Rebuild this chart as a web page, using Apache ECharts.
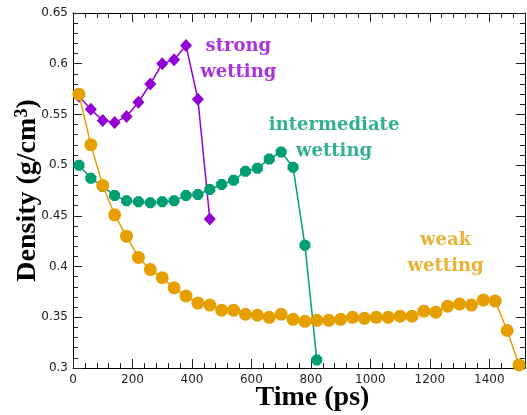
<!DOCTYPE html>
<html>
<head>
<meta charset="utf-8">
<script src="https://cdn.jsdelivr.net/npm/echarts@6/dist/echarts.min.js"></script>
<style>html,body{margin:0;padding:0;background:#fff}#c{width:527px;height:415px}</style>
</head>
<body>
<div id="c"></div>
<script>
// Time (ps) of each sample
var times = [20, 60, 100, 140, 180, 220, 260, 300, 340, 380, 420, 460, 500, 540, 580, 620, 660, 700, 740,
             780, 820, 860, 900, 940, 980, 1020, 1060, 1100, 1140, 1180, 1220, 1260, 1300, 1340, 1380, 1420, 1460, 1500];
// Density (g/cm^3)
var weakWetting = [0.570, 0.520, 0.480, 0.451, 0.430, 0.409, 0.397, 0.389, 0.379, 0.371, 0.364, 0.362, 0.357, 0.357,
                   0.353, 0.352, 0.350, 0.353, 0.348, 0.346, 0.347, 0.347, 0.348, 0.350, 0.349, 0.350, 0.350, 0.351,
                   0.351, 0.356, 0.355, 0.361, 0.363, 0.362, 0.367, 0.366, 0.337, 0.303];
var intermediateWetting = [0.500, 0.487, 0.479, 0.470, 0.465, 0.464, 0.463, 0.464, 0.465, 0.470, 0.471, 0.476,
                           0.481, 0.485, 0.494, 0.497, 0.506, 0.513, 0.498, 0.421, 0.308];
var strongWetting = [0.568, 0.555, 0.544, 0.542, 0.548, 0.562, 0.580, 0.600, 0.604, 0.618, 0.565, 0.447];
// Annotation labels: [time, density, text]
var annotations = [
  [556, 0.604, 'strong\nwetting', '#9400D3'],
  [878, 0.526, 'intermediate\nwetting', '#009E73'],
  [1253, 0.413, 'weak\nwetting', '#E69F00']
];
var xTicksMajor = 200, xTicksMinor = 40, xMin = 0, xMax = 1520;
var yTicksMajor = 0.05, yTicksMinor = 0.01, yMin = 0.3, yMax = 0.65;

function pairs(vals) { return vals.map(function (v, i) { return [times[i], v]; }); }

var chart = echarts.init(document.getElementById('c'), null, {renderer: 'canvas'});
var tickColor = '#222';
function xAx(pos, major, labels, line) {
  return {
    type: 'value', position: pos, min: xMin, max: xMax,
    interval: major ? xTicksMajor : xTicksMinor,
    splitLine: {show: false},
    axisLine: {show: line, onZero: false, lineStyle: {color: '#000', width: 1}},
    axisTick: {show: true, inside: true, length: major ? 9 : 5, lineStyle: {color: tickColor, width: 1}},
    axisLabel: {show: labels, margin: 6, color: '#222', fontFamily: 'DejaVu Sans', fontSize: 12,
      formatter: function (v) { return (v % 200 === 0) ? String(v) : ''; }},
    name: labels ? 'Time (ps)' : '',
    nameLocation: 'middle', nameGap: 16, nameMoveOverlap: false,
    nameTextStyle: {fontFamily: 'Liberation Serif', fontWeight: 'bold', fontSize: 28, color: '#000', padding: [0, 0, 0, 27]}
  };
}
function yAx(pos, major, labels, line) {
  return {
    type: 'value', position: pos, min: yMin, max: yMax,
    interval: major ? yTicksMajor : yTicksMinor,
    splitLine: {show: false},
    axisLine: {show: line, onZero: false, lineStyle: {color: '#000', width: 1}},
    axisTick: {show: true, inside: true, length: major ? 9 : 5, lineStyle: {color: tickColor, width: 1}},
    axisLabel: {show: labels, margin: 5, color: '#222', fontFamily: 'DejaVu Sans', fontSize: 12,
      formatter: function (v) { return String(Math.round(v * 100) / 100); }},
    name: labels ? '{a|Density (g/cm}{s|3}{a|)}' : '',
    nameLocation: 'middle', nameGap: 30, nameMoveOverlap: false,
    nameTextStyle: {fontFamily: 'Liberation Serif', fontWeight: 'bold', fontSize: 28, color: '#000',
      rich: {
        a: {fontFamily: 'Liberation Serif', fontWeight: 'bold', fontSize: 28, color: '#000', lineHeight: 30},
        s: {fontFamily: 'Liberation Serif', fontWeight: 'bold', fontSize: 18, color: '#000', verticalAlign: 'top', lineHeight: 30, padding: [0, 0, 10, 0]}
      }}
  };
}
var octagon = 'path://M3,0 L7,0 L10,3 L10,7 L7,10 L3,10 L0,7 L0,3 Z';
var option = {
  animation: false,
  backgroundColor: '#fff',
  grid: {left: 73, right: 2, top: 13, bottom: 47, containLabel: false, outerBoundsMode: 'none'},
  xAxis: [xAx('bottom', true, true, true), xAx('bottom', false, false, false),
          xAx('top', true, false, true), xAx('top', false, false, false)],
  yAxis: [yAx('left', true, true, true), yAx('left', false, false, false),
          yAx('right', true, false, true), yAx('right', false, false, false)],
  series: [
    {type: 'line', name: 'strong', data: pairs(strongWetting), symbol: 'diamond', symbolSize: [12, 13],
     itemStyle: {color: '#9400D3'}, lineStyle: {color: '#9400D3', width: 1.5}, z: 3},
    {type: 'line', name: 'intermediate', data: pairs(intermediateWetting), symbol: octagon, symbolSize: 11,
     itemStyle: {color: '#009E73'}, lineStyle: {color: '#009E73', width: 1.5}, z: 4},
    {type: 'line', name: 'weak', data: pairs(weakWetting), symbol: 'circle', symbolSize: 13,
     itemStyle: {color: '#E69F00'}, lineStyle: {color: '#E69F00', width: 1.5}, z: 5},
    {type: 'scatter', silent: true, symbolSize: 0, z: 6,
     data: annotations.map(function (a) {
       return {value: [a[0], a[1]], name: a[2],
         label: {show: true, position: 'inside', formatter: a[2], color: a[3],
           fontFamily: 'DejaVu Serif', fontWeight: 'bold', fontSize: 18, lineHeight: 26, align: 'center'}};
     })}
  ]
};
chart.setOption(option);
</script>
</body>
</html>
